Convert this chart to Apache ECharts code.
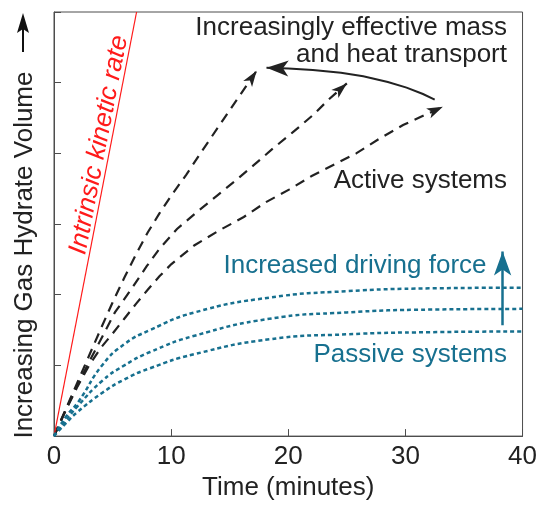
<!DOCTYPE html>
<html>
<head>
<meta charset="utf-8">
<script src="https://cdn.jsdelivr.net/npm/echarts@6/dist/echarts.min.js"></script>
<style>
  html, body { margin: 0; padding: 0; background: #fff; }
  #chart { width: 540px; height: 506px; }
</style>
</head>
<body>
<div id="chart"></div>
<script>
// values (x = minutes, y = relative hydrate volume)
const xTicks = [0, 10, 20, 30, 40]
const intrinsicRate = [[0, 0], [7.05, 6]]

const activeFast = [[0, 0], [1, 0.38], [2, 0.76], [3, 1.14], [4, 1.52], [5, 1.89], [6, 2.24], [7, 2.57], [8, 2.88], [9, 3.15], [10, 3.4], [11.3, 3.7], [12.7, 4.05], [15, 4.61], [17.3, 5.17]]
const activeMid = [[0, 0], [1, 0.37], [2, 0.72], [3, 1.05], [4.1, 1.4], [5.2, 1.75], [6.6, 2.08], [7.9, 2.4], [9, 2.65], [10.5, 2.93], [12.2, 3.17], [13.9, 3.4], [15.6, 3.63], [17.1, 3.84], [18.7, 4.07], [20.4, 4.3], [22.1, 4.54], [23.5, 4.77], [25, 4.99]]
const activeSlow = [[0, 0], [1, 0.36], [2, 0.7], [3, 1.0], [4, 1.25], [5, 1.45], [6, 1.66], [7, 1.87], [8, 2.07], [9, 2.26], [10, 2.43], [12, 2.7], [14, 2.9], [16.2, 3.1], [18.1, 3.31], [20.1, 3.49], [22, 3.68], [25.8, 4.0], [27.8, 4.21], [29.8, 4.4], [33.2, 4.66]]

const passiveHigh = [[0, 0], [1, 0.27], [2.1, 0.49], [4.1, 1.0], [6, 1.3], [8.2, 1.5], [12, 1.75], [18.4, 1.96], [25, 2.05], [32, 2.09], [40, 2.1]]
const passiveMid = [[0, 0], [1, 0.22], [2, 0.42], [4.1, 0.78], [6, 1.0], [8.2, 1.19], [12, 1.42], [18.4, 1.66], [25, 1.75], [32, 1.79], [40, 1.8]]
const passiveLow = [[0, 0], [1, 0.18], [2, 0.34], [4.1, 0.61], [6, 0.8], [8.2, 0.96], [12, 1.16], [18.4, 1.37], [25, 1.44], [32, 1.47], [40, 1.48]]

const transportArrow = [[32.5, 4.76], [31.5, 4.84], [30.1, 4.93], [28.5, 5.01], [26.4, 5.09], [24.5, 5.14], [22.1, 5.18], [20, 5.2], [18.14, 5.21]]
const drivingArrow = [[38.3, 1.57], [38.3, 2.61]]

const FONT = 'Liberation Sans, Arial, Helvetica, sans-serif'
const INK = '#222222'
const TEAL = '#17708f'
const AXIS = '#4d4d4d'

const chart = echarts.init(document.getElementById('chart'))

const lastSegment = (pts) => pts.slice(pts.length - 2)

// polyline lines do not draw end symbols, so the head sits on the last segment
const arrowHead = (pts, color, size) => ({
  type: 'lines',
  coordinateSystem: 'cartesian2d',
  silent: true,
  symbol: ['none', 'arrow'],
  symbolSize: [1, size],
  lineStyle: { color: color, width: 0, opacity: 1 },
  data: [{ coords: lastSegment(pts) }]
})

const dashedActive = (coords) => ({
  type: 'lines',
  coordinateSystem: 'cartesian2d',
  polyline: true,
  silent: true,
  lineStyle: { color: INK, width: 2.2, type: [10, 7], opacity: 1 },
  data: [{ coords: coords }]
})

const dottedPassive = (data) => ({
  type: 'line',
  data: data,
  smooth: true,
  showSymbol: false,
  silent: true,
  lineStyle: { color: TEAL, width: 2.5, type: [4, 3] }
})

const option = {
  animation: false,
  textStyle: { fontFamily: FONT },
  grid: {
    left: 54, right: 17, top: 12, bottom: 64,
    show: true, borderColor: AXIS, borderWidth: 1
  },
  xAxis: {
    type: 'value',
    min: 0, max: 40, interval: 10,
    name: 'Time (minutes)',
    nameLocation: 'middle',
    nameGap: 36,
    nameTextStyle: { fontSize: 26, color: INK, fontFamily: FONT },
    axisLine: { show: true, lineStyle: { color: AXIS } },
    axisTick: { show: true, inside: true, length: 7, lineStyle: { color: AXIS } },
    axisLabel: {
      fontSize: 26, color: INK, fontFamily: FONT, margin: 8,
      formatter: (v) => xTicks.includes(v) ? String(v) : ''
    },
    splitLine: { show: false }
  },
  yAxis: {
    type: 'value',
    min: 0, max: 6, interval: 1,
    name: 'Increasing Gas Hydrate Volume',
    nameLocation: 'middle',
    nameGap: 16,
    nameTextStyle: { fontSize: 26, color: INK, fontFamily: FONT, padding: [0, 62, 0, 0] },
    axisLine: { show: true, lineStyle: { color: AXIS } },
    axisTick: { show: true, inside: true, length: 7, lineStyle: { color: AXIS } },
    axisLabel: { show: false },
    splitLine: { show: false }
  },
  series: [
    {
      type: 'line',
      data: intrinsicRate,
      showSymbol: false,
      silent: true,
      lineStyle: { color: '#ff1a1a', width: 1.2 }
    },
    dottedPassive(passiveHigh),
    dottedPassive(passiveMid),
    dottedPassive(passiveLow),
    dashedActive(activeFast),
    dashedActive(activeMid),
    dashedActive(activeSlow),
    arrowHead(activeFast, INK, [8, 16]),
    arrowHead(activeMid, INK, [8, 16]),
    arrowHead(activeSlow, INK, [8, 16]),
    {
      type: 'lines',
      coordinateSystem: 'cartesian2d',
      polyline: true,
      silent: true,
      lineStyle: { color: INK, width: 2, opacity: 1 },
      data: [{ coords: transportArrow }]
    },
    arrowHead(transportArrow, INK, [12, 22]),
    {
      type: 'lines',
      coordinateSystem: 'cartesian2d',
      silent: true,
      symbol: ['none', 'arrow'],
      symbolSize: [1, [13, 24]],
      lineStyle: { color: TEAL, width: 2.5, opacity: 1 },
      data: [{ coords: drivingArrow }]
    }
  ],
  graphic: [
    {
      type: 'text', x: 507, y: 41, silent: true,
      style: {
        text: 'Increasingly effective mass\nand heat transport',
        align: 'right', verticalAlign: 'middle', lineHeight: 27,
        fontSize: 26, fontFamily: FONT, fill: INK
      }
    },
    {
      type: 'text', x: 507, y: 181, silent: true,
      style: { text: 'Active systems', align: 'right', verticalAlign: 'middle', fontSize: 26, fontFamily: FONT, fill: INK }
    },
    {
      type: 'text', x: 355, y: 266, silent: true,
      style: { text: 'Increased driving force', align: 'center', verticalAlign: 'middle', fontSize: 26, fontFamily: FONT, fill: TEAL }
    },
    {
      type: 'text', x: 507, y: 355, silent: true,
      style: { text: 'Passive systems', align: 'right', verticalAlign: 'middle', fontSize: 26, fontFamily: FONT, fill: TEAL }
    },
    {
      type: 'text', x: 99, y: 145, rotation: 79.1 * Math.PI / 180, silent: true,
      style: {
        text: 'Intrinsic kinetic rate', align: 'center', verticalAlign: 'middle',
        fontSize: 26, fontStyle: 'italic', fontFamily: FONT, fill: '#ff1a1a'
      }
    },
    // arrow next to the y axis title
    {
      type: 'line', silent: true,
      shape: { x1: 23, y1: 52, x2: 23, y2: 26 },
      style: { stroke: '#111', lineWidth: 2 }
    },
    {
      type: 'polygon', silent: true,
      shape: { points: [[23, 13], [29, 33], [23, 29], [17, 33]] },
      style: { fill: '#111' }
    }
  ]
}

chart.setOption(option)
</script>
</body>
</html>
